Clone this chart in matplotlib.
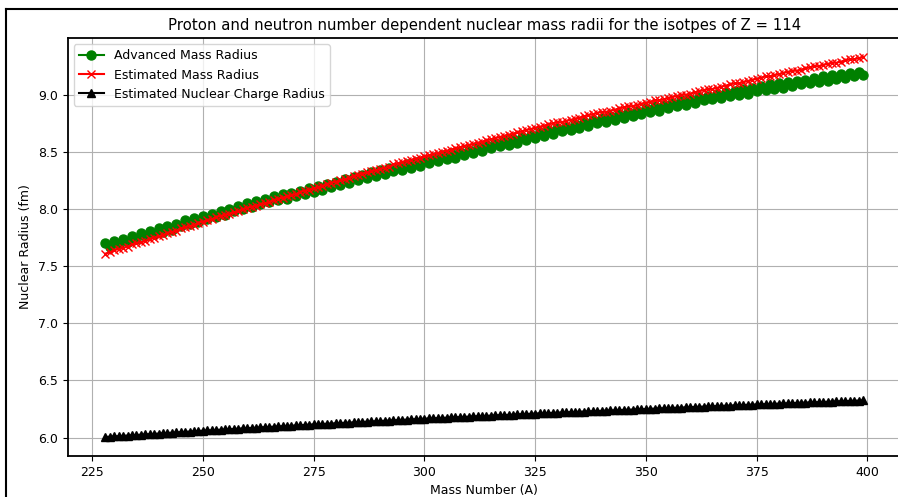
import numpy as np
import matplotlib.pyplot as plt
from matplotlib.lines import Line2D

# ---------- DATA ----------
A = list(range(228, 400))

adv_mass = [
    7.70, 7.67, 7.72, 7.69, 7.74, 7.71, 7.76, 7.74, 7.79, 7.76, 7.81, 7.78, 7.83,
    7.80, 7.85, 7.82, 7.87, 7.85, 7.90, 7.87, 7.92, 7.89, 7.94,
    7.91, 7.96, 7.93, 7.98, 7.95, 8.00, 7.98, 8.03, 8.00, 8.05, 8.02, 8.07,
    8.04, 8.09, 8.06, 8.11, 8.08, 8.13, 8.09, 8.14, 8.11, 8.16, 8.13, 8.18, 8.15,
    8.20, 8.17, 8.22, 8.19, 8.24, 8.21, 8.26, 8.23, 8.28, 8.25, 8.30, 8.27,
    8.32, 8.29, 8.34, 8.31, 8.36, 8.33, 8.37, 8.34, 8.39, 8.36, 8.41, 8.38, 8.43,
    8.40, 8.45, 8.42, 8.47, 8.44, 8.49, 8.45, 8.50, 8.47, 8.52, 8.49, 8.54,
    8.51, 8.56, 8.53, 8.58, 8.55, 8.60, 8.56, 8.61, 8.58, 8.63, 8.60, 8.65, 8.62,
    8.67, 8.64, 8.69, 8.66, 8.71, 8.68, 8.72, 8.69, 8.74, 8.71, 8.76, 8.73,
    8.78, 8.75, 8.80, 8.76, 8.81, 8.78, 8.83, 8.80, 8.85, 8.81, 8.86, 8.83, 8.88,
    8.85, 8.90, 8.86, 8.91, 8.88, 8.93, 8.90, 8.95, 8.91, 8.96, 8.93, 8.98,
    8.95, 8.99, 8.96, 9.01, 8.97, 9.02, 8.99, 9.03, 9.00, 9.05, 9.01, 9.06, 9.03,
    9.08, 9.04, 9.09, 9.05, 9.10, 9.06, 9.11, 9.08, 9.12, 9.09, 9.13, 9.10,
    9.15, 9.11, 9.16, 9.12, 9.17, 9.14, 9.18, 9.15, 9.19, 9.16, 9.20, 9.17,
]

est_mass = [
    7.61, 7.62, 7.64, 7.65, 7.66, 7.67, 7.69, 7.70, 7.71, 7.72, 7.74, 7.75, 7.76,
    7.77, 7.79, 7.80, 7.81, 7.83, 7.84, 7.85, 7.86, 7.88, 7.89,
    7.90, 7.91, 7.93, 7.94, 7.95, 7.96, 7.97, 7.98, 8.00, 8.01, 8.02, 8.03,
    8.04, 8.05, 8.06, 8.08, 8.09, 8.10, 8.11, 8.12, 8.13, 8.15, 8.16, 8.17, 8.18,
    8.19, 8.20, 8.22, 8.23, 8.24, 8.25, 8.26, 8.27, 8.29, 8.30, 8.31, 8.32,
    8.33, 8.34, 8.35, 8.36, 8.37, 8.39, 8.40, 8.41, 8.42, 8.43, 8.44, 8.45, 8.46,
    8.47, 8.48, 8.49, 8.50, 8.51, 8.52, 8.53, 8.54, 8.55, 8.56, 8.57, 8.58,
    8.59, 8.60, 8.61, 8.62, 8.63, 8.64, 8.65, 8.66, 8.67, 8.68, 8.69, 8.70, 8.71,
    8.72, 8.73, 8.74, 8.75, 8.76, 8.76, 8.77, 8.78, 8.79, 8.80, 8.81, 8.82,
    8.83, 8.84, 8.85, 8.85, 8.86, 8.87, 8.88, 8.89, 8.90, 8.90, 8.91, 8.92, 8.93,
    8.94, 8.95, 8.95, 8.96, 8.97, 8.98, 8.99, 9.00, 9.00, 9.01, 9.02, 9.03,
    9.04, 9.05, 9.05, 9.06, 9.07, 9.08, 9.09, 9.10, 9.10, 9.11, 9.12, 9.13, 9.14,
    9.15, 9.16, 9.16, 9.17, 9.18, 9.19, 9.20, 9.21, 9.21, 9.22, 9.23, 9.24,
    9.25, 9.25, 9.26, 9.27, 9.28, 9.28, 9.29, 9.30, 9.31, 9.31, 9.32, 9.33,
]

charge = [
    6.005, 6.008, 6.010, 6.013, 6.015, 6.018, 6.020, 6.023, 6.025, 6.028, 6.030,
    6.033, 6.035, 6.038, 6.040, 6.043, 6.045, 6.048, 6.050, 6.053, 6.055, 6.058, 6.060,
    6.062, 6.064, 6.067, 6.069, 6.071, 6.073, 6.075, 6.078, 6.080, 6.082, 6.084, 6.086,
    6.089, 6.091, 6.093, 6.095, 6.097, 6.100, 6.102, 6.104, 6.106, 6.108, 6.111, 6.113, 6.115,
    6.117, 6.119, 6.121, 6.123, 6.125, 6.127, 6.129, 6.131, 6.133, 6.135, 6.137, 6.139,
    6.141, 6.143, 6.145, 6.147, 6.149, 6.151, 6.153, 6.155, 6.157, 6.159, 6.161, 6.163, 6.165,
    6.167, 6.169, 6.170, 6.172, 6.174, 6.176, 6.178, 6.179, 6.181, 6.183, 6.185, 6.187,
    6.188, 6.190, 6.192, 6.194, 6.196, 6.197, 6.199, 6.201, 6.203, 6.205, 6.206, 6.208, 6.210,
    6.212, 6.213, 6.215, 6.216, 6.218, 6.220, 6.221, 6.223, 6.224, 6.226, 6.228, 6.229,
    6.231, 6.232, 6.234, 6.236, 6.237, 6.239, 6.240, 6.242, 6.244, 6.245, 6.247, 6.248, 6.250,
    6.252, 6.253, 6.255, 6.256, 6.258, 6.260, 6.261, 6.263, 6.264, 6.266, 6.268, 6.269,
    6.271, 6.272, 6.274, 6.276, 6.277, 6.279, 6.280, 6.282, 6.284, 6.285, 6.287, 6.288, 6.290,
    6.291, 6.293, 6.294, 6.296, 6.297, 6.299, 6.300, 6.302, 6.303, 6.305, 6.306, 6.308,
    6.309, 6.310, 6.312, 6.313, 6.315, 6.316, 6.318, 6.319, 6.321, 6.322, 6.324, 6.325,
]

# ---------- PLOT ----------
fig = plt.figure(figsize=(8.98, 4.97), dpi=100)
ax = fig.add_axes([0.0752, 0.0825, 0.928, 0.841])

ax.plot(A, adv_mass, color="green", marker="o", markersize=6.5, label="Advanced Mass Radius")
ax.plot(A, est_mass, color="red", marker="x", label="Estimated Mass Radius")
ax.plot(A, charge, color="black", marker="^", label="Estimated Nuclear Charge Radius")

ax.set_title("Proton and neutron number dependent nuclear mass radii for the isotpes of Z = 114",
             fontsize=10.7)
ax.set_xlabel("Mass Number (A)", fontsize=9)
ax.set_ylabel("Nuclear Radius (fm)", fontsize=9)
ax.tick_params(labelsize=9)
ax.grid(True)
ax.legend(loc="upper left", fontsize=9)
for s in ax.spines.values():
    s.set_linewidth(1.3)

# outer frame of the screenshot
fig.add_artist(Line2D([0.007, 0.007], [0.0, 0.982], color="black", lw=1.5, transform=fig.transFigure))
fig.add_artist(Line2D([0.007, 1.0], [0.982, 0.982], color="black", lw=1.5, transform=fig.transFigure))

fig.savefig("out.png", dpi=100)
